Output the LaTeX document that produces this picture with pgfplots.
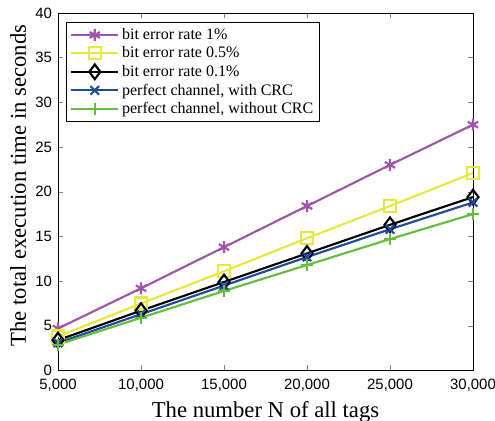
\documentclass[border=0pt]{standalone}
\usepackage{pgfplots}
\pgfplotsset{compat=1.18}
\usepackage{fontspec}
\setmainfont{Liberation Serif}
\newfontfamily\ticksf{Liberation Sans}
\definecolor{cpurple}{RGB}{160,85,170}
\definecolor{cyellow}{RGB}{232,232,60}
\definecolor{cblue}{RGB}{30,75,155}
\definecolor{cgreen}{RGB}{100,190,60}
\begin{document}
\begin{tikzpicture}
\begin{axis}[
  scale only axis,
  width=311pt, height=268pt,
  xmin=5000, xmax=30000, ymin=0, ymax=40,
  xtick={5000,10000,15000,20000,25000,30000},
  ytick={0,5,10,15,20,25,30,35,40},
  scaled x ticks=false,
  xticklabel style={yshift=-2.5pt,/pgf/number format/1000 sep={,},/pgf/number format/assume math mode=true},
  yticklabel style={xshift=-1pt,/pgf/number format/assume math mode=true},
  ticklabel style={font=\ticksf\fontsize{11.2}{13}\selectfont},
  tick align=inside,
  major tick length=4pt,
  xlabel={The number N of all tags},
  ylabel={The total execution time in seconds},
  label style={font=\fontsize{17}{19}\selectfont},
  xlabel style={yshift=-1pt},
  ylabel style={at={(ticklabel cs:0.517)}},
  legend style={at={(0.02,0.975)},anchor=north west,draw=black,line width=0.8pt,
    font=\fontsize{12}{14}\selectfont,row sep=0pt,inner sep=2.5pt},
  legend cell align=left,
  legend image code/.code={
    \draw[mark repeat=2,mark phase=2] plot coordinates {(0cm,0cm) (0.62cm,0cm) (1.24cm,0cm)};},
  every axis plot/.append style={line width=1.6pt, mark size=4.5pt},
]
\addplot[cpurple, mark=asterisk] coordinates {(5000,4.7) (10000,9.2) (15000,13.8) (20000,18.4) (25000,23.0) (30000,27.5)};
\addplot[cyellow, mark=square] coordinates {(5000,3.8) (10000,7.5) (15000,11.1) (20000,14.8) (25000,18.4) (30000,22.1)};
\addplot[black, mark=diamond, mark size=5.5pt] coordinates {(5000,3.4) (10000,6.7) (15000,9.9) (20000,13.1) (25000,16.3) (30000,19.4)};
\addplot[cblue, mark=x] coordinates {(5000,3.1) (10000,6.3) (15000,9.5) (20000,12.7) (25000,15.8) (30000,18.8)};
\addplot[cgreen, mark=+] coordinates {(5000,2.9) (10000,5.9) (15000,8.9) (20000,11.8) (25000,14.7) (30000,17.5)};
\legend{bit error rate 1\%, bit error rate 0.5\%, bit error rate 0.1\%, {perfect channel, with CRC}, {perfect channel, without CRC}}
\end{axis}
\pgfresetboundingbox
\useasboundingbox ([shift={(-43.5pt,-37.5pt)}]current axis.south west) rectangle ([shift={(16.5pt,9.7pt)}]current axis.north east);
\end{tikzpicture}
\end{document}
